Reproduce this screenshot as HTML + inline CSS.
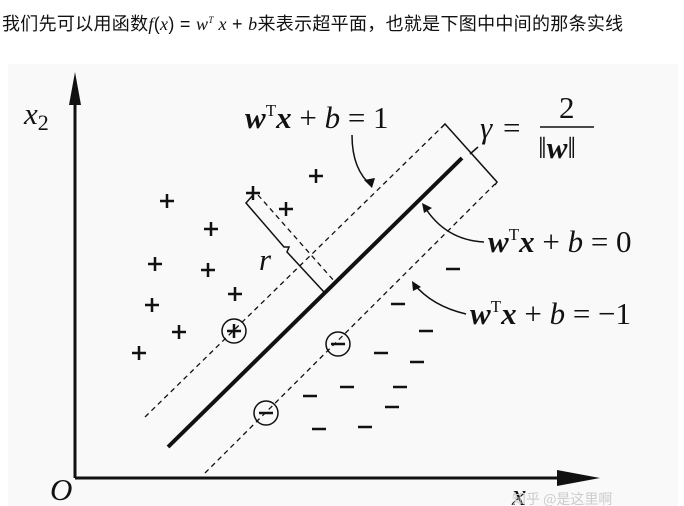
<!DOCTYPE html>
<html><head><meta charset="utf-8"><style>
body{margin:0;width:684px;height:506px;background:#fff;overflow:hidden;position:relative;font-family:"Liberation Sans","Noto Sans CJK SC",sans-serif}
.h{position:absolute;left:2px;top:10px;font-size:18px;color:#111;white-space:nowrap;letter-spacing:0.3px}
.h i{font-family:"Liberation Serif",serif}
svg{position:absolute;left:0;top:0}
.m{font-family:"Liberation Serif",serif;font-size:31px;fill:#111}
.b{font-weight:bold;font-style:italic}
</style></head><body>
<div class="h">我们先可以用函数<i>f</i>(<i>x</i>) = <i>w<sup style="font-size:9px">T</sup> x</i> + <i>b</i>来表示超平面，也就是下图中中间的那条实线</div>
<svg width="684" height="506" viewBox="0 0 684 506">
<rect x="8" y="64" width="670" height="442" fill="#f9f9f9"/>
<g stroke="#111" fill="none">
<line x1="75" y1="100" x2="75" y2="478" stroke-width="3"/>
<line x1="75" y1="478" x2="565" y2="478" stroke-width="3"/>
<line x1="168" y1="447" x2="462" y2="158" stroke-width="4"/>
<line x1="145" y1="417" x2="441" y2="128" stroke-width="1.3" stroke-dasharray="5,4"/>
<line x1="205" y1="473" x2="495" y2="184" stroke-width="1.3" stroke-dasharray="5,4"/>
<polyline points="441,128 445,124 497,182 495,185" stroke-width="1.5"/>
<line x1="470" y1="154" x2="478" y2="147" stroke-width="1.5"/>
<polyline points="253,195 246,203 284,247 289,247 287,252 324,292 330,288" stroke-width="1.5"/>
<line x1="258" y1="195" x2="335" y2="282" stroke-width="1.3" stroke-dasharray="5,4"/>
<path d="M352 135 Q352 170 372 186" stroke-width="1.5"/>
<path d="M484 242 Q445 240 424 206" stroke-width="1.5"/>
<path d="M466 314 Q432 306 414 284" stroke-width="1.5"/>
<circle cx="234" cy="331" r="12" stroke-width="1.5"/>
<circle cx="338" cy="344" r="12" stroke-width="1.5"/>
<circle cx="266" cy="413" r="12" stroke-width="1.5"/>
</g>
<g fill="#111">
<polygon points="75,72 69,105 81,105"/>
<polygon points="600,478 557,470 557,486"/>
<polygon points="372,188 364,180 375,178"/>
<polygon points="422,203 432,208 424,213"/>
<polygon points="412,281 421,287 413,291"/>
</g>
<g stroke="#111" stroke-width="2.5">
<path d="M160 201h14M167 194v14 M246 193h14M253 186v14 M279 209h14M286 202v14 M204 229h14M211 222v14 M148 264h14M155 257v14 M201 270h14M208 263v14 M228 294h14M235 287v14 M145 305h14M152 298v14 M172 332h14M179 325v14 M132 353h14M139 346v14 M309 176h14M316 169v14 M227 331h14M234 324v14"/>
<path d="M446 269h14 M391 304h14 M419 331h14 M374 353h14 M410 362h14 M303 396h14 M340 387h14 M393 387h14 M385 407h14 M312 429h14 M358 427h14 M331 344h14 M259 413h14"/>
</g>
<text class="m" x="24" y="124" font-style="italic" font-size="32">x<tspan font-size="22" font-style="normal" dy="6">2</tspan></text>
<text class="m" x="50" y="500" font-style="italic" font-size="20">O</text>
<text class="m" x="245" y="128"><tspan class="b">w</tspan><tspan font-size="17" dy="-12">T</tspan><tspan class="b" dy="12">x</tspan> + <tspan font-style="italic">b</tspan> = 1</text>
<text class="m" x="488" y="252"><tspan class="b">w</tspan><tspan font-size="17" dy="-12">T</tspan><tspan class="b" dy="12">x</tspan> + <tspan font-style="italic">b</tspan> = 0</text>
<text class="m" x="470" y="324"><tspan class="b">w</tspan><tspan font-size="17" dy="-12">T</tspan><tspan class="b" dy="12">x</tspan> + <tspan font-style="italic">b</tspan> = −1</text>
<text class="m" x="480" y="138" font-style="italic">γ</text><text class="m" x="503" y="138">=</text>
<text class="m" x="559" y="118">2</text>
<line x1="540" y1="127" x2="594" y2="127" stroke="#111" stroke-width="1.5"/>
<text class="m" x="538" y="158">‖<tspan class="b">w</tspan>‖</text>
<text class="m" x="259" y="270" font-style="italic" font-size="24">r</text>
<text class="m" x="512" y="505" font-style="italic" font-size="22" fill="#999">x</text>
<text x="512" y="504" font-size="14" fill="#ccc" font-family="Noto Sans CJK SC,sans-serif">知乎 @是这里啊</text>
</svg>
</body></html>
